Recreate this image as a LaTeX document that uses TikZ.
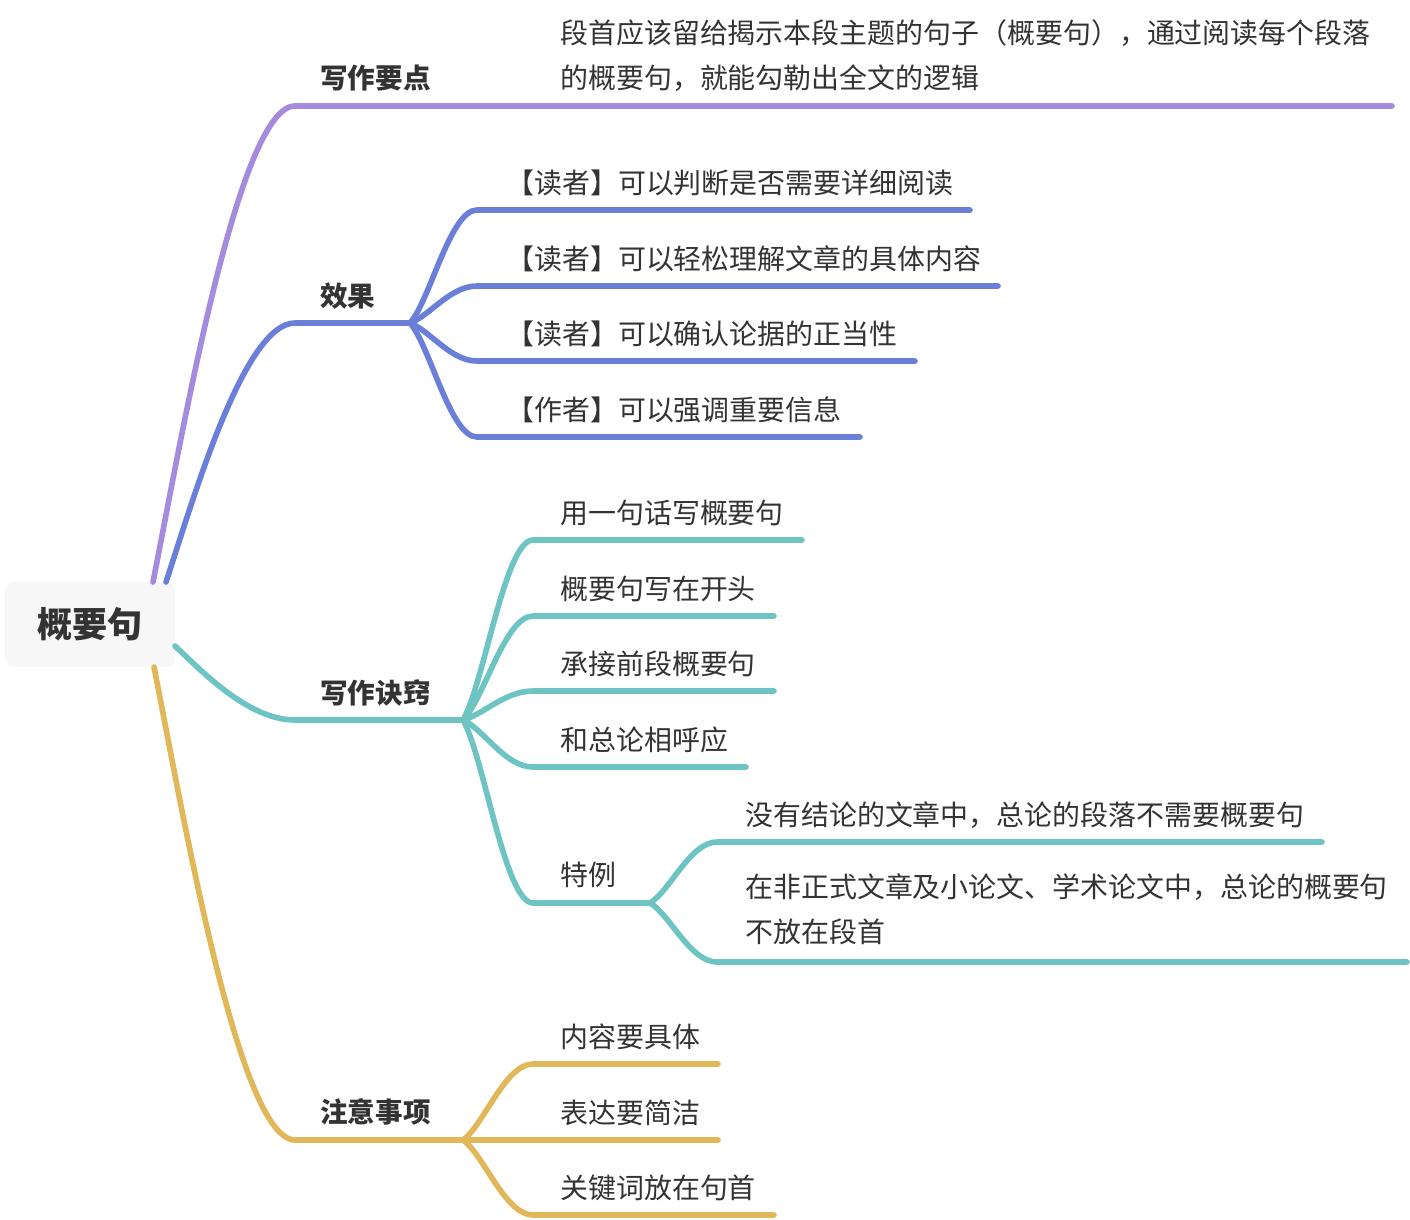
\documentclass[tikz,border=0pt]{standalone}
\usepackage{fontspec}
\setmainfont{Noto Sans CJK SC}
\usetikzlibrary{calc}
\definecolor{ink}{HTML}{333333}
\definecolor{rootwash}{HTML}{F7F7F7}
\definecolor{keypt}{HTML}{A58BDE}
\definecolor{effect}{HTML}{6C7FD8}
\definecolor{knack}{HTML}{6EC4C2}
\definecolor{caution}{HTML}{E0B859}
\tikzset{
  every node/.style={font=\fontsize{15.9}{25.6}\selectfont, text=ink, inner sep=0pt},
  rootbox/.style={fill=rootwash, rounded corners=5pt, minimum width=3.4cm, minimum height=1.7cm,
                  font=\fontsize{20}{24}\selectfont\bfseries},
  topic/.style={anchor=west, font=\fontsize{15.7}{25.6}\selectfont\bfseries},
  leaf/.style={anchor=west, align=left},
  wire/.style={line width=3.2pt, line cap=round, line join=round},
  % main branch: leaves the root steep, lands flat
  trunk/.style={to path={let \p1=(\tikztostart), \p2=(\tikztotarget) in
      .. controls ({\x1+0.2*(\x2-\x1)},{\y1+0.3*(\y2-\y1)}) and ({\x2-0.4*(\x2-\x1)},\y2) .. (\tikztotarget)}},
  % sub branch out of a fork
  twig/.style={to path={let \p1=(\tikztostart), \p2=(\tikztotarget) in
      .. controls ({\x1+0.3*(\x2-\x1)},{\y1+0.2*(\y2-\y1)}) and ({\x2-0.4*(\x2-\x1)},\y2) .. (\tikztotarget)}},
}

\begin{document}
\begin{tikzpicture}[x=0.02cm, y=-0.02cm]
\useasboundingbox (0,0) rectangle (1410,1220);

% ================= root =================
\node[rootbox] (root) at (90,624.5) {概要句};
\coordinate (root-a) at (153,582);
\coordinate (root-b) at (166,582);
\coordinate (root-c) at (175,646);
\coordinate (root-d) at (154,667);

% ================= 写作要点 =================
\coordinate (keypt) at (295,106);
\coordinate (keypt-end) at (1392,106);
\node[topic] (keypt-lab) at (320,78) {写作要点};
\node[leaf] (keypt-1) at (560,55.5) {段首应该留给揭示本段主题的句子（概要句），通过阅读每个段落\\的概要句，就能勾勒出全文的逻辑};
\draw[wire, keypt] (root-a) to[trunk] (keypt) -- (keypt-end);

% ================= 效果 =================
\coordinate (effect) at (295,323);
\coordinate (effect-fork) at (410,323);
\node[topic] (effect-lab) at (320,296) {效果};
\draw[wire, effect] (root-b) to[trunk] (effect) -- (effect-fork);
\foreach \k/\ly/\lx/\txt in {1/210/970/{【读者】可以判断是否需要详细阅读},
                             2/286/998/{【读者】可以轻松理解文章的具体内容},
                             3/361/915/{【读者】可以确认论据的正当性},
                             4/437/860/{【作者】可以强调重要信息}}{
  \coordinate (effect-\k) at (477,\ly);
  \coordinate (effect-\k-end) at (\lx,\ly);
  \node[leaf] (effect-\k-txt) at (506,\ly-27) {\txt};
  \draw[wire, effect] (effect-fork) to[twig] (effect-\k) -- (effect-\k-end);
}

% ================= 写作诀窍 =================
\coordinate (knack) at (295,720);
\coordinate (knack-fork) at (463,720);
\node[topic] (knack-lab) at (320,693) {写作诀窍};
\draw[wire, knack] (root-c) to[trunk] (knack) -- (knack-fork);
\foreach \k/\ly/\lx/\txt in {1/540/802/{用一句话写概要句},
                             2/616/774/{概要句写在开头},
                             3/691/774/{承接前段概要句},
                             4/767/746/{和总论相呼应}}{
  \coordinate (knack-\k) at (533,\ly);
  \coordinate (knack-\k-end) at (\lx,\ly);
  \node[leaf] (knack-\k-txt) at (560,\ly-27) {\txt};
  \draw[wire, knack] (knack-fork) to[twig] (knack-\k) -- (knack-\k-end);
}

% 特例 and its two cases
\coordinate (knack-5) at (533,903);
\coordinate (knack-5-fork) at (650,903);
\node[leaf] (knack-5-txt) at (560,875) {特例};
\draw[wire, knack] (knack-fork) to[twig] (knack-5) -- (knack-5-fork);
\coordinate (case-1) at (717,842);
\coordinate (case-1-end) at (1322,842);
\node[leaf] (case-1-txt) at (745,815) {没有结论的文章中，总论的段落不需要概要句};
\draw[wire, knack] (knack-5-fork) to[twig] (case-1) -- (case-1-end);
\coordinate (case-2) at (717,962);
\coordinate (case-2-end) at (1407,962);
\node[leaf] (case-2-txt) at (745,909.5) {在非正式文章及小论文、学术论文中，总论的概要句\\不放在段首};
\draw[wire, knack] (knack-5-fork) to[twig] (case-2) -- (case-2-end);

% ================= 注意事项 =================
\coordinate (caution) at (295,1140);
\coordinate (caution-fork) at (463,1140);
\node[topic] (caution-lab) at (320,1112) {注意事项};
\draw[wire, caution] (root-d) to[trunk] (caution) -- (caution-fork);
\foreach \k/\ly/\lx/\txt in {1/1064/718/{内容要具体},
                             2/1140/718/{表达要简洁},
                             3/1215/774/{关键词放在句首}}{
  \coordinate (caution-\k) at (533,\ly);
  \coordinate (caution-\k-end) at (\lx,\ly);
  \node[leaf] (caution-\k-txt) at (560,\ly-27) {\txt};
  \draw[wire, caution] (caution-fork) to[twig] (caution-\k) -- (caution-\k-end);
}

\end{tikzpicture}
\end{document}
